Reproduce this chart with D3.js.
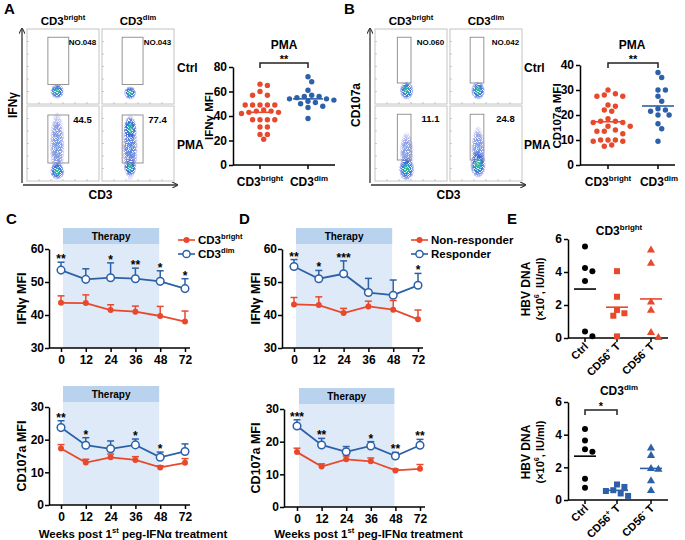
<!DOCTYPE html>
<html><head><meta charset="utf-8">
<script src="https://cdn.jsdelivr.net/npm/d3@7"></script>
<style>
body{margin:0;background:#fff}
svg{font-family:"Liberation Sans",Arial,Helvetica,sans-serif;font-weight:bold}
</style>
</head><body>
<svg id="c" width="685" height="540"></svg>
<script>
// ---------------- DATA ----------------
// Panel A / B flow plots
const flowCols = [["CD3","bright"],["CD3","dim"]];
const flowRows = ["Ctrl","PMA"];
const aGateLabels = ["NO.048","NO.043","44.5","77.4"];
const bGateLabels = ["NO.060","NO.042","11.1","24.8"];
// gate rectangles [x0,y0,x1,y1] in plot fractions
const aGates = [[0.29,0.11,0.58,0.74],[0.28,0.11,0.57,0.74],[0.29,0.12,0.58,0.76],[0.28,0.12,0.57,0.76]];
const bGates = [[0.31,0.11,0.50,0.72],[0.28,0.11,0.47,0.72],[0.31,0.11,0.50,0.72],[0.28,0.11,0.47,0.72]];
// cell populations [cx, cy, rx, ry, density] in plot fractions
const aCells = [
  [[0.42,0.83,0.08,0.09,1.0]],
  [[0.39,0.85,0.07,0.08,0.8]],
  [[0.42,0.52,0.085,0.40,0.35],[0.42,0.87,0.085,0.10,1.0]],
  [[0.39,0.55,0.09,0.40,0.5],[0.39,0.30,0.075,0.14,0.9],[0.39,0.82,0.07,0.10,0.75]]
];
const bCells = [
  [[0.44,0.82,0.08,0.11,1.0]],
  [[0.39,0.82,0.08,0.11,0.9]],
  [[0.44,0.62,0.08,0.25,0.3],[0.44,0.84,0.09,0.14,1.0]],
  [[0.39,0.58,0.08,0.28,0.35],[0.39,0.78,0.09,0.16,1.0]]
];

// Panel A / B scatter
const scatterCats = [["CD3","bright"],["CD3","dim"]];
const aIfnBright = [66,65,60,57,57,49,49,49,49,49,45,44,43,42,43,44,37,37,37,37,31,31,25,25,21];
const aIfnDim = [72,68,61,57,56,56,55,54,54,53,52,51,50,48,47,38];
const aIfnMeans = [43,54];
const bCd107Bright = [30,28.5,28,27.5,27.5,24,23.5,22,21.5,18.5,17.5,17.5,17,17,15.5,15.5,14,13.5,13.5,12.5,10,10,10,9.5,9.5,8,7.5];
const bCd107Dim = [37,35,30,30,27.5,25.5,22.5,22,21.5,20,20,16.5,14.5,9.5];
const bCd107Means = [17.3,23.6];

// Panels C / D
const weeks = ["0","12","24","36","48","72"];
const cIfnBright = [43.7,43.6,41.5,41.0,39.7,38.0];
const cIfnBrightErr = [2.1,2.5,1.6,1.7,2.9,3.2];
const cIfnDim = [53.6,50.8,51.3,51.0,50.2,48.0];
const cIfnDimErr = [2.4,3.2,4.5,3.2,3.2,3.0];
const cIfnStars = ["**","","*","**","*","*"];
const cCdBright = [17.3,13.0,14.6,13.8,11.5,12.9];
const cCdBrightErr = [1.2,1.0,1.0,1.0,0.5,1.3];
const cCdDim = [23.7,18.3,17.2,18.4,14.6,16.4];
const cCdDimErr = [2.1,2.3,2.4,1.8,1.6,2.3];
const cCdStars = ["**","*","","*","*",""];
const dIfnNon = [43.2,43.0,40.6,42.6,41.6,38.7];
const dIfnNonErr = [2.1,2.5,1.4,1.6,2.8,2.8];
const dIfnResp = [54.7,51.0,52.5,46.8,46.0,49.0];
const dIfnRespErr = [2.1,2.5,3.9,4.3,4.6,3.6];
const dIfnStars = ["**","*","***","","","*"];
const dCdNon = [16.8,12.4,14.6,14.0,11.2,11.7];
const dCdNonErr = [1.2,0.8,1.0,1.0,0.4,1.3];
const dCdResp = [24.8,19.0,16.9,18.7,15.6,18.9];
const dCdRespErr = [1.9,2.0,1.6,1.3,1.1,1.8];
const dCdStars = ["***","**","","*","**","**"];

// Panel E
const eCats = ["Ctrl","CD56+ T","CD56- T"];
const eBrightCtrl = [5.55,4.25,4.05,3.45,0.4,0.1];
const eBrightPos = [4.05,2.5,1.7,1.5,1.35,0.1];
const eBrightNeg = [5.35,4.55,2.2,1.7,0.35,0.05];
const eDimCtrl = [4.35,3.65,3.1,2.95,1.3,0.75];
const eDimPos = [0.95,0.8,0.6,0.55,0.4,0.25];
const eDimNeg = [3.2,2.75,1.95,1.9,1.2,0.6];

// ---------------- DRAW ----------------
const RED = "#e8492d", BLUE = "#2c60a8", BAND_HEAD = "#b9d3ee", BAND = "#deeaf7";
const svg = d3.select("#c");
const defs = svg.append("defs");

function rich(sel, x, y, parts, size, anchor, transform) {
  const t = sel.append("text").attr("x", x).attr("y", y)
    .attr("font-size", size).attr("text-anchor", anchor || "start");
  if (transform) t.attr("transform", transform);
  let shift = 0;
  parts.forEach(p => {
    const s = Array.isArray(p) ? p[0] : p, kind = Array.isArray(p) ? p[1] : null;
    const target = kind === "sup" ? -size * 0.42 : 0;
    const ts = t.append("tspan").text(s).attr("dy", target - shift);
    if (kind === "sup") ts.attr("font-size", size * 0.66);
    shift = target;
  });
  return t;
}
function letter(x, y, s) {
  svg.append("text").attr("x", x).attr("y", y).attr("font-size", 15).text(s);
}
function styleAxis(g) {
  g.selectAll("path,line").attr("stroke", "#000").attr("stroke-width", 1.5);
  g.selectAll("text").attr("font-size", 11).attr("font-weight", "bold")
    .attr("font-family", "Liberation Sans, Arial, sans-serif").attr("fill", "#000");
}

defs.append("marker").attr("id", "arr").attr("viewBox", "0 0 10 10").attr("refX", 8).attr("refY", 5)
  .attr("markerWidth", 5).attr("markerHeight", 5).attr("orient", "auto-start-reverse")
  .append("path").attr("d", "M0,0 L10,5 L0,10").attr("fill", "none").attr("stroke", "#333").attr("stroke-width", 1.6);

const flt = defs.append("filter").attr("id", "speck").attr("x", "-20%").attr("y", "-20%").attr("width", "140%").attr("height", "140%");
flt.append("feTurbulence").attr("type", "fractalNoise").attr("baseFrequency", 1.1).attr("numOctaves", 1).attr("seed", 3).attr("result", "n");
flt.append("feColorMatrix").attr("in", "n").attr("type", "matrix")
  .attr("values", "0 0 0 0 0  0 0 0 0 0  0 0 0 0 0  0 0 0 -7 4.6").attr("result", "m");
flt.append("feComposite").attr("in", "SourceGraphic").attr("in2", "m").attr("operator", "in");

const grad = defs.append("radialGradient").attr("id", "cellg");
[[0, "#3cc060", 1], [0.3, "#22b0b8", 1], [0.6, "#2a62d4", 0.9], [1, "#3a4ad8", 0.15]].forEach(s =>
  grad.append("stop").attr("offset", s[0]).attr("stop-color", s[1]).attr("stop-opacity", s[2]));
const grad2 = defs.append("radialGradient").attr("id", "cellb");
[[0, "#2f7ad8", 0.9], [0.6, "#3a52d0", 0.7], [1, "#4a50d8", 0.1]].forEach(s =>
  grad2.append("stop").attr("offset", s[0]).attr("stop-color", s[1]).attr("stop-opacity", s[2]));

function flowPanel(cfg) {
  const g = svg.append("g");
  const W = 72, H = 75;
  cfg.xs.forEach((x0, ci) => {
    cfg.ys.forEach((y0, ri) => {
      const k = ri * 2 + ci;
      const pg = g.append("g").attr("transform", `translate(${x0},${y0})`);
      pg.append("rect").attr("width", W).attr("height", H).attr("fill", "#fff").attr("stroke", "#c4c4c4").attr("stroke-width", 1);
      for (let i = 1; i < 6; i++) {
        pg.append("line").attr("x1", 0).attr("x2", 2).attr("y1", i * H / 6).attr("y2", i * H / 6).attr("stroke", "#aaa").attr("stroke-width", 0.6);
        pg.append("line").attr("y1", H).attr("y2", H - 2).attr("x1", i * W / 6).attr("x2", i * W / 6).attr("stroke", "#aaa").attr("stroke-width", 0.6);
      }
      const cg = pg.append("g").attr("filter", "url(#speck)");
      cfg.cells[k].forEach(b => {
        cg.append("ellipse").attr("cx", b[0] * W).attr("cy", b[1] * H).attr("rx", b[2] * W * 1.2).attr("ry", b[3] * H * 1.1)
          .attr("fill", b[4] > 0.6 ? "url(#cellg)" : "url(#cellb)").attr("opacity", Math.min(1, 0.45 + b[4]));
      });
      const gt = cfg.gates[k];
      pg.append("rect").attr("x", gt[0] * W).attr("y", gt[1] * H).attr("width", (gt[2] - gt[0]) * W).attr("height", (gt[3] - gt[1]) * H)
        .attr("fill", "none").attr("stroke", "#8a8a8a").attr("stroke-width", 0.9);
      pg.append("text").attr("x", 0.77 * W).attr("y", gt[1] * H + 8).attr("text-anchor", "middle")
        .attr("font-size", cfg.labels[k].startsWith("NO") ? 8 : 9.5).text(cfg.labels[k]);
    });
  });
  cfg.xs.forEach((x0, ci) => rich(g, x0 + W / 2, 25, [flowCols[ci][0], [flowCols[ci][1], "sup"]], 11.5, "middle"));
  cfg.ys.forEach((y0, ri) => g.append("text").attr("x", cfg.rowX).attr("y", y0 + H / 2 + 5).attr("font-size", 12).text(flowRows[ri]));
  const xl = cfg.xs[0], xr = cfg.xs[1] + W, yt = cfg.ys[0], yb = cfg.ys[1] + H;
  g.append("line").attr("x1", xl - 5).attr("x2", xl - 5).attr("y1", yb + 2).attr("y2", yt).attr("stroke", "#333").attr("stroke-width", 1.3).attr("marker-end", "url(#arr)");
  g.append("line").attr("x1", xl - 4).attr("x2", xr + 3).attr("y1", yb + 4).attr("y2", yb + 4).attr("stroke", "#333").attr("stroke-width", 1.3).attr("marker-end", "url(#arr)");
  g.append("text").attr("transform", `translate(${cfg.yLabX},${(yt + yb) / 2}) rotate(-90)`).attr("text-anchor", "middle").attr("font-size", 12).text(cfg.yLab);
  g.append("text").attr("x", (xl + xr) / 2).attr("y", 199).attr("text-anchor", "middle").attr("font-size", 12).text("CD3");
}

// beeswarm offsets (layout only)
function swarm(vals, y, r, gap) {
  const placed = [];
  const order = vals.map((v, i) => i).sort((a, b) => vals[b] - vals[a]);
  const out = new Array(vals.length);
  order.forEach(i => {
    const py = y(vals[i]);
    let best = 0;
    for (let k = 0; k < 60; k++) {
      const cands = k === 0 ? [0] : [k * gap / 2, -k * gap / 2];
      let ok = null;
      for (const c of cands) {
        if (placed.every(p => Math.hypot(p[0] - c, p[1] - py) >= 2 * r + 0.6)) { ok = c; break; }
      }
      if (ok !== null) { best = ok; break; }
    }
    placed.push([best, py]);
    out[i] = best;
  });
  return out;
}

function marker(g, shape, x, y, color, size) {
  if (shape === "circle") g.append("circle").attr("cx", x).attr("cy", y).attr("r", size).attr("fill", color);
  else if (shape === "square") g.append("rect").attr("x", x - size).attr("y", y - size).attr("width", 2 * size).attr("height", 2 * size).attr("fill", color);
  else g.append("path").attr("d", d3.symbol(d3.symbolTriangle, size * size * 3.2)()).attr("transform", `translate(${x},${y + 0.5})`).attr("fill", color);
}

function scatterPanel(cfg) {
  const g = svg.append("g");
  const y = d3.scaleLinear().domain(cfg.yd).range(cfg.yr);
  const ax = g.append("g").attr("transform", `translate(${cfg.axisX},0)`)
    .call(d3.axisLeft(y).tickValues(cfg.ticks).tickFormat(d3.format("d")).tickSize(4).tickSizeOuter(0).tickPadding(2));
  styleAxis(ax);
  ax.selectAll("text").attr("font-size", 12);
  g.append("line").attr("x1", cfg.axisX).attr("x2", cfg.xEnd).attr("y1", cfg.yr[0]).attr("y2", cfg.yr[0]).attr("stroke", "#000").attr("stroke-width", 1.5);
  cfg.cx.forEach(cx => g.append("line").attr("x1", cx).attr("x2", cx).attr("y1", cfg.yr[0]).attr("y2", cfg.yr[0] + 4).attr("stroke", "#000").attr("stroke-width", 1.5));
  cfg.groups.forEach((grp, gi) => {
    const offs = swarm(grp.vals, y, cfg.r, cfg.gap);
    grp.vals.forEach((v, i) => marker(g, grp.shape || "circle", cfg.cx[gi] + offs[i], y(v), grp.color, cfg.r));
    const m = grp.mean !== undefined ? grp.mean : d3.mean(grp.vals);
    g.append("line").attr("x1", cfg.cx[gi] - grp.mw).attr("x2", cfg.cx[gi] + grp.mw).attr("y1", y(m)).attr("y2", y(m))
      .attr("stroke", grp.lineColor || grp.color).attr("stroke-width", 1.6);
  });
  if (cfg.bracket) {
    const [a, b, by, s] = cfg.bracket;
    g.append("path").attr("d", `M${cfg.cx[a]},${by + 5}V${by}H${cfg.cx[b]}V${by + 5}`).attr("fill", "none").attr("stroke", "#222").attr("stroke-width", 1.5);
    g.append("text").attr("x", (cfg.cx[a] + cfg.cx[b]) / 2).attr("y", by).attr("text-anchor", "middle").attr("font-size", 11).text(s);
  }
  if (cfg.title) rich(g, cfg.titleX, cfg.titleY, cfg.title, 12, "middle");
  return { g, y };
}

function linePanel(cfg) {
  const g = svg.append("g");
  const x = d3.scalePoint().domain(weeks).range(cfg.xr);
  const y = d3.scaleLinear().domain(cfg.yd).range(cfg.yr);
  const top = cfg.yr[1];
  const bx0 = x("0") + 2, bx1 = x("48") - 1;
  g.append("rect").attr("x", bx0).attr("y", top - 21).attr("width", bx1 - bx0).attr("height", 16).attr("fill", BAND_HEAD);
  g.append("rect").attr("x", bx0).attr("y", top - 5).attr("width", bx1 - bx0).attr("height", cfg.yr[0] - top + 5).attr("fill", BAND);
  g.append("text").attr("x", (bx0 + bx1) / 2).attr("y", top - 9.5).attr("text-anchor", "middle").attr("font-size", 10).text("Therapy");
  const ay = g.append("g").attr("transform", `translate(${cfg.axisX},0)`)
    .call(d3.axisLeft(y).tickValues(cfg.ticks).tickSize(4).tickSizeOuter(0).tickPadding(1));
  styleAxis(ay);
  ay.selectAll("text").attr("font-size", 12);
  const axb = g.append("g").attr("transform", `translate(0,${cfg.yr[0]})`).call(d3.axisBottom(x).tickSize(4).tickPadding(3));
  styleAxis(axb);
  axb.select(".domain").remove();
  axb.selectAll("text").attr("font-size", 12);
  g.append("line").attr("x1", cfg.axisX).attr("x2", cfg.xr[1] + 5).attr("y1", cfg.yr[0]).attr("y2", cfg.yr[0]).attr("stroke", "#000").attr("stroke-width", 1.5);
  const line = d3.line().x((d, i) => x(weeks[i])).y(d => y(d));
  cfg.series.forEach(s => {
    s.vals.forEach((v, i) => {
      const cx = x(weeks[i]), y0 = y(v), y1 = y(v + s.errs[i]);
      g.append("line").attr("x1", cx).attr("x2", cx).attr("y1", y0).attr("y2", y1).attr("stroke", s.color).attr("stroke-width", 1.5);
      g.append("line").attr("x1", cx - 3.5).attr("x2", cx + 3.5).attr("y1", y1).attr("y2", y1).attr("stroke", s.color).attr("stroke-width", 1.5);
    });
    g.append("path").attr("d", line(s.vals)).attr("fill", "none").attr("stroke", s.color).attr("stroke-width", 1.8);
    s.vals.forEach((v, i) => {
      if (s.open) g.append("circle").attr("cx", x(weeks[i])).attr("cy", y(v)).attr("r", 3.8).attr("fill", "#fff").attr("stroke", s.color).attr("stroke-width", 1.5);
      else g.append("circle").attr("cx", x(weeks[i])).attr("cy", y(v)).attr("r", 3).attr("fill", s.color);
    });
  });
  const hi = cfg.series[1];
  cfg.stars.forEach((s, i) => {
    if (!s) return;
    g.append("text").attr("x", x(weeks[i])).attr("y", y(hi.vals[i] + hi.errs[i]) + 1).attr("text-anchor", "middle").attr("font-size", 12).text(s);
  });
  g.append("text").attr("transform", `translate(${cfg.ylabX},${(cfg.yr[0] + cfg.yr[1]) / 2}) rotate(-90)`)
    .attr("text-anchor", "middle").attr("font-size", 12.5).text(cfg.ylab);
  if (cfg.xlabY) rich(g, (cfg.xr[0] + cfg.xr[1]) / 2 + 10, cfg.xlabY,
    ["Weeks post 1", ["st", "sup"], " peg-IFNα treatment"], 11.5, "middle");
  if (cfg.legend) {
    const L = cfg.legend;
    L.items.forEach((it, i) => {
      const ly = L.y + i * 14;
      g.append("line").attr("x1", L.x).attr("x2", L.x + 17).attr("y1", ly).attr("y2", ly).attr("stroke", it.color).attr("stroke-width", 1.6);
      if (it.open) g.append("circle").attr("cx", L.x + 8.5).attr("cy", ly).attr("r", 3.6).attr("fill", "#fff").attr("stroke", it.color).attr("stroke-width", 1.5);
      else g.append("circle").attr("cx", L.x + 8.5).attr("cy", ly).attr("r", 3).attr("fill", it.color);
      rich(g, L.x + 20, ly + 4, it.text, 11.5, "start");
    });
  }
}

// ---- Panel A ----
letter(4, 14, "A");
flowPanel({ xs: [27, 102], ys: [29, 106], gates: aGates, labels: aGateLabels, cells: aCells, rowX: 177, yLab: "IFNγ", yLabX: 17 });
scatterPanel({
  axisX: 233, xEnd: 335, yd: [0, 80], yr: [165, 67], ticks: [0, 20, 40, 60, 80], cx: [260, 308], r: 2.7, gap: 7.4,
  groups: [{ vals: aIfnBright, color: RED, mean: aIfnMeans[0], mw: 13 }, { vals: aIfnDim, color: BLUE, mean: aIfnMeans[1], mw: 15 }],
  bracket: [0, 1, 63, "**"], title: ["PMA"], titleX: 284, titleY: 49
});
rich(svg, 260, 186, scatterCats[0].map((p, i) => i ? [p, "sup"] : p), 12, "middle");
rich(svg, 309, 186, scatterCats[1].map((p, i) => i ? [p, "sup"] : p), 12, "middle");
svg.append("text").attr("transform", "translate(213,116) rotate(-90)").attr("text-anchor", "middle").attr("font-size", 11.5).text("IFNγ MFI");

// ---- Panel B ----
letter(344, 14, "B");
flowPanel({ xs: [375, 450], ys: [29, 106], gates: bGates, labels: bGateLabels, cells: bCells, rowX: 524, yLab: "CD107a", yLabX: 360 });
scatterPanel({
  axisX: 580, xEnd: 675, yd: [0, 40], yr: [165, 65], ticks: [0, 10, 20, 30, 40], cx: [608, 658], r: 2.7, gap: 7.4,
  groups: [{ vals: bCd107Bright, color: RED, mean: bCd107Means[0], mw: 15 }, { vals: bCd107Dim, color: BLUE, mean: bCd107Means[1], mw: 16 }],
  bracket: [0, 1, 63, "**"], title: ["PMA"], titleX: 632, titleY: 49
});
rich(svg, 608, 186, scatterCats[0].map((p, i) => i ? [p, "sup"] : p), 12, "middle");
rich(svg, 659, 186, scatterCats[1].map((p, i) => i ? [p, "sup"] : p), 12, "middle");
svg.append("text").attr("transform", "translate(561,116) rotate(-90)").attr("text-anchor", "middle").attr("font-size", 11.5).text("CD107a MFI");

// ---- Panel C ----
letter(6, 224, "C");
linePanel({
  xr: [61, 185], yd: [30, 60], yr: [348, 249], axisX: 49, ticks: [30, 40, 50, 60], ylabX: 26, ylab: "IFNγ MFI",
  series: [{ vals: cIfnBright, errs: cIfnBrightErr, color: RED }, { vals: cIfnDim, errs: cIfnDimErr, color: BLUE, open: true }],
  stars: cIfnStars,
  legend: { x: 178, y: 240, items: [{ color: RED, text: ["CD3", ["bright", "sup"]] }, { color: BLUE, open: true, text: ["CD3", ["dim", "sup"]] }] }
});
linePanel({
  xr: [61, 185], yd: [0, 30], yr: [505, 407], axisX: 49, ticks: [0, 10, 20, 30], ylabX: 26, ylab: "CD107a  MFI",
  series: [{ vals: cCdBright, errs: cCdBrightErr, color: RED }, { vals: cCdDim, errs: cCdDimErr, color: BLUE, open: true }],
  stars: cCdStars, xlabY: 538
});

// ---- Panel D ----
letter(239, 224, "D");
linePanel({
  xr: [294, 418], yd: [30, 60], yr: [348, 249], axisX: 282, ticks: [30, 40, 50, 60], ylabX: 260, ylab: "IFNγ MFI",
  series: [{ vals: dIfnNon, errs: dIfnNonErr, color: RED }, { vals: dIfnResp, errs: dIfnRespErr, color: BLUE, open: true }],
  stars: dIfnStars,
  legend: { x: 411, y: 240, items: [{ color: RED, text: ["Non-responder"] }, { color: BLUE, open: true, text: ["Responder"] }] }
});
linePanel({
  xr: [297, 420], yd: [0, 30], yr: [507, 409], axisX: 284, ticks: [0, 10, 20, 30], ylabX: 260, ylab: "CD107a  MFI",
  series: [{ vals: dCdNon, errs: dCdNonErr, color: RED }, { vals: dCdResp, errs: dCdRespErr, color: BLUE, open: true }],
  stars: dCdStars, xlabY: 538
});

// ---- Panel E ----
letter(507, 224, "E");
function eLabels(yAxis) {
  const cx = [585, 617, 651];
  rich(svg, cx[0] + 4, yAxis + 9, [eCats[0]], 11, "end", `rotate(-45,${cx[0] + 4},${yAxis + 9})`);
  [1, 2].forEach(i => rich(svg, cx[i] + 4, yAxis + 9, ["CD56", [eCats[i].charAt(4), "sup"], " T"], 11, "end", `rotate(-45,${cx[i] + 4},${yAxis + 9})`));
}
function eYlab(cy) {
  svg.append("text").attr("transform", `translate(530,${cy}) rotate(-90)`).attr("text-anchor", "middle").attr("font-size", 12).text("HBV DNA");
  rich(svg, 0, 0, ["(×10", ["6", "sup"], ", IU/ml)"], 11, "middle", `translate(544,${cy}) rotate(-90)`);
}
scatterPanel({
  axisX: 568, xEnd: 668, yd: [0, 6], yr: [338, 239], ticks: [0, 2, 4, 6], cx: [585, 617, 651], r: 3, gap: 7.4,
  groups: [{ vals: eBrightCtrl, color: "#000", mw: 11 }, { vals: eBrightPos, color: RED, shape: "square", mw: 11 }, { vals: eBrightNeg, color: RED, shape: "triangle", mw: 11 }],
  title: ["CD3", ["bright", "sup"]], titleX: 619, titleY: 235
});
eLabels(338); eYlab(289);
scatterPanel({
  axisX: 568, xEnd: 668, yd: [0, 6], yr: [500, 402], ticks: [0, 2, 4, 6], cx: [585, 617, 651], r: 3, gap: 7.4,
  groups: [{ vals: eDimCtrl, color: "#000", mw: 11 }, { vals: eDimPos, color: BLUE, shape: "square", mw: 11 }, { vals: eDimNeg, color: BLUE, shape: "triangle", mw: 11 }],
  bracket: [0, 1, 410, "*"], title: ["CD3", ["dim", "sup"]], titleX: 619, titleY: 395
});
eLabels(500); eYlab(452);
</script>
</body></html>
